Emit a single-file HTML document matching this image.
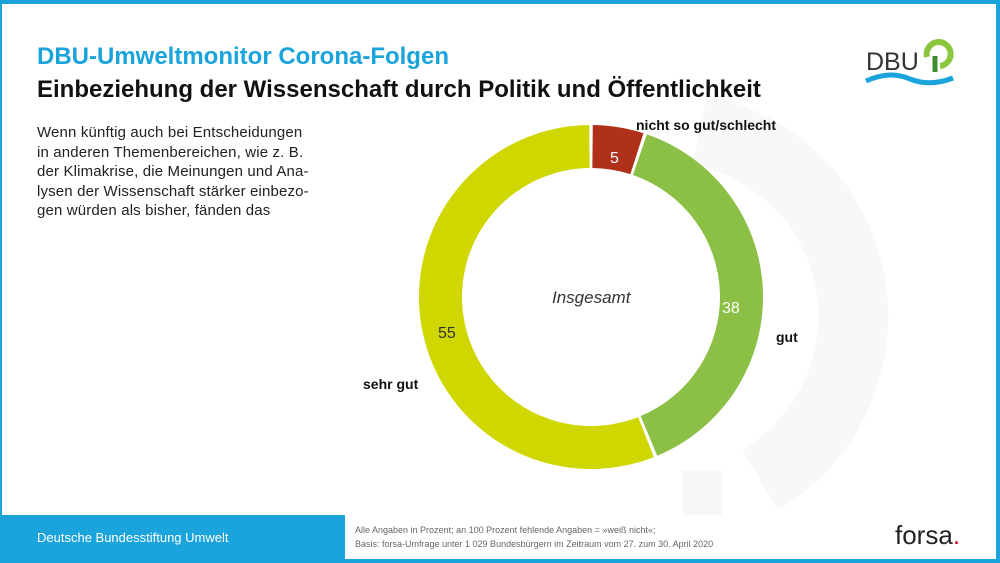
<!DOCTYPE html>
<html><head><meta charset="utf-8"><style>
body{margin:0;width:1000px;height:563px;overflow:hidden;font-family:"Liberation Sans",sans-serif;background:#1ba3dc}
#p{position:absolute;left:2px;top:4px;width:994px;height:511px;background:#fff}
.t{position:absolute;white-space:nowrap}
</style></head><body>
<div id="p"></div>
<svg width="1000" height="563" style="position:absolute;left:0;top:0">
<path d="M700 130 A190 190 0 0 1 760 480" stroke="#f8f8f8" stroke-width="70" fill="none"/>
<rect x="682" y="470" width="40" height="45" fill="#f8f8f8"/>
<g id="d"></g>
<text x="866" y="70" font-family="Liberation Sans" font-size="25" fill="#333">DBU</text>
<path d="M927 57 A12 12 0 1 1 940 66" stroke="#8cc63f" stroke-width="6" fill="none"/>
<path d="M935 56 L935 72" stroke="#3e8e30" stroke-width="5"/>
<path d="M866 81 Q890 70 910 79 Q930 87 953 78" stroke="#1ba3dc" stroke-width="5" fill="none"/>
</svg>
<script>
var cx=591,cy=297,R=172,r=129,vals=[5,38,55],cols=["#b0311a","#8bbf45","#cfd600"],tot=98,a=0.6,g=document.getElementById('d'),s='';
function pt(rad,ang){ang=(ang-90)*Math.PI/180;return [cx+rad*Math.cos(ang),cy+rad*Math.sin(ang)];}
vals.forEach(function(v,i){var b=a+v/tot*360-1.2;var l=(b-a)>180?1:0;var p1=pt(R,a),p2=pt(R,b),p3=pt(r,b),p4=pt(r,a);
s+='<path fill="'+cols[i]+'" d="M'+p1+' A'+R+' '+R+' 0 '+l+' 1 '+p2+' L'+p3+' A'+r+' '+r+' 0 '+l+' 0 '+p4+'Z"/>';a=b+1.2;});
g.innerHTML=s;
</script>
<div class="t" style="left:37px;top:43px;font-size:24px;font-weight:bold;color:#1ba3dc">DBU-Umweltmonitor Corona-Folgen</div>
<div class="t" style="left:37px;top:76px;font-size:24px;font-weight:bold;color:#111">Einbeziehung der Wissenschaft durch Politik und Öffentlichkeit</div>
<div class="t" style="left:37px;top:123px;font-size:15px;letter-spacing:0.15px;line-height:19.5px;color:#222">Wenn künftig auch bei Entscheidungen<br>in anderen Themenbereichen, wie z. B.<br>der Klimakrise, die Meinungen und Ana-<br>lysen der Wissenschaft stärker einbezo-<br>gen würden als bisher, fänden das</div>
<div class="t" style="left:636px;top:117px;font-size:14px;font-weight:bold;color:#111">nicht so gut/schlecht</div>
<div class="t" style="left:776px;top:329px;font-size:14px;font-weight:bold;color:#111">gut</div>
<div class="t" style="left:363px;top:376px;font-size:14px;font-weight:bold;color:#111">sehr gut</div>
<div class="t" style="left:610px;top:150px;font-size:16px;color:#fff">5</div>
<div class="t" style="left:722px;top:300px;font-size:16px;color:#fff">38</div>
<div class="t" style="left:438px;top:325px;font-size:16px;color:#333">55</div>
<div class="t" style="left:552px;top:288px;font-size:17px;font-style:italic;color:#333">Insgesamt</div>
<div class="t" style="left:37px;top:530px;font-size:13px;color:#fff">Deutsche Bundesstiftung Umwelt</div>
<div style="position:absolute;left:345px;top:515px;width:651px;height:44px;background:#fff"></div>
<div class="t" style="left:355px;top:523px;font-size:9px;line-height:14px;color:#666">Alle Angaben in Prozent; an 100 Prozent fehlende Angaben = »weiß nicht«;<br>Basis: forsa-Umfrage unter 1 029 Bundesbürgern im Zeitraum vom 27. zum 30. April 2020</div>
<div class="t" style="left:895px;top:520px;font-size:26px;color:#222">forsa<span style="color:#d0021b">.</span></div>
</body></html>
